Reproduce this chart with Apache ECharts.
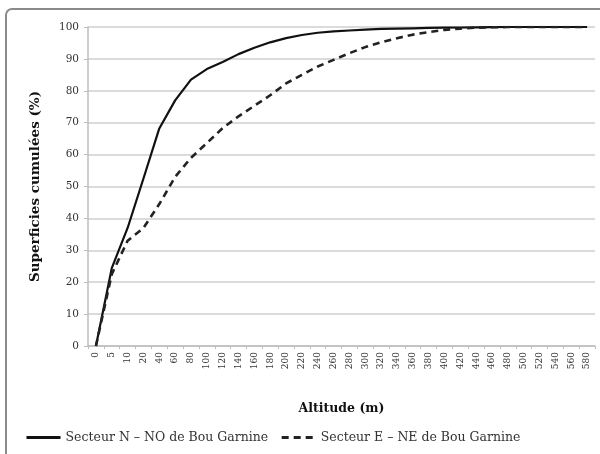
<!DOCTYPE html>
<html>
<head>
<meta charset="utf-8">
<script src="https://cdn.jsdelivr.net/npm/echarts@6/dist/echarts.min.js"></script>
<style>
  html, body { margin: 0; padding: 0; background: #fff; }
  #chart { width: 600px; height: 454px; }
</style>
</head>
<body>
<div id="chart"></div>
<script>
  // altitude classes (m)
  const altitudes = ['0', '5', '10', '20', '40', '60', '80', '100', '120', '140', '160', '180',
    '200', '220', '240', '260', '280', '300', '320', '340', '360', '380', '400', '420',
    '440', '460', '480', '500', '520', '540', '560', '580']

  // cumulative surfaces (%)
  const secteurNNO = [0, 24.4, 37, 52.5, 68.2, 77, 83.5, 86.8, 89, 91.5, 93.5, 95.2,
    96.5, 97.5, 98.2, 98.6, 98.9, 99.2, 99.4, 99.5, 99.6, 99.7, 99.8, 99.85,
    99.9, 99.95, 100, 100, 100, 100, 100, 100]
  const secteurENE = [0, 22.5, 33, 37, 44.5, 53, 59, 63.6, 68.3, 72, 75.3, 78.6,
    82.3, 85, 87.6, 89.7, 91.8, 93.7, 95.2, 96.5, 97.6, 98.4, 99.1, 99.5,
    99.8, 99.9, 100, 100, 100, 100, 100, 100]

  const nameNNO = 'Secteur N – NO de Bou Garnine'
  const nameENE = 'Secteur E – NE de Bou Garnine'

  const serif = '"DejaVu Serif", "Liberation Serif", serif'

  const chart = echarts.init(document.getElementById('chart'))
  chart.setOption({
    animation: false,
    textStyle: {fontFamily: serif},
    graphic: [
      {
        type: 'rect',
        shape: {x: 6, y: 9, width: 610, height: 470, r: 6},
        style: {fill: 'none', stroke: '#8a8a8a', lineWidth: 2}
      }
    ],
    grid: {left: 88, right: 5, top: 27, bottom: 108},
    legend: {
      orient: 'horizontal',
      top: 426,
      left: 20,
      itemGap: 12,
      itemWidth: 34,
      itemHeight: 14,
      itemStyle: {opacity: 0},
      lineStyle: {width: 3},
      textStyle: {fontFamily: serif, fontSize: 12.5, color: '#333'},
      data: [nameNNO, nameENE]
    },
    xAxis: {
      type: 'category',
      data: altitudes,
      boundaryGap: true,
      name: 'Altitude (m)',
      nameLocation: 'middle',
      nameGap: 56,
      nameTextStyle: {fontFamily: serif, fontSize: 12.5, fontWeight: 'bold', color: '#111'},
      axisLine: {lineStyle: {color: '#bdbdbd', width: 1.5}},
      axisTick: {show: true, interval: 0, length: 3, lineStyle: {color: '#bdbdbd'}},
      axisLabel: {interval: 0, rotate: 90, fontSize: 9, color: '#333', margin: 6, fontFamily: serif}
    },
    yAxis: {
      type: 'value',
      min: 0,
      max: 100,
      interval: 10,
      name: 'Superficies cumulées (%)',
      nameLocation: 'middle',
      nameGap: 46,
      nameTextStyle: {fontFamily: serif, fontSize: 13.5, fontWeight: 'bold', color: '#111'},
      axisLine: {show: true, lineStyle: {color: '#bdbdbd', width: 1.5}},
      axisTick: {show: true, length: 4, lineStyle: {color: '#bdbdbd'}},
      axisLabel: {fontSize: 10.5, color: '#333', margin: 9, fontFamily: serif},
      splitLine: {lineStyle: {color: '#cfcfcf', width: 1.5}}
    },
    series: [
      {
        name: nameNNO,
        type: 'line',
        data: secteurNNO,
        symbol: 'none',
        lineStyle: {color: '#111', width: 2.2, type: 'solid'},
        itemStyle: {color: '#111'}
      },
      {
        name: nameENE,
        type: 'line',
        data: secteurENE,
        symbol: 'none',
        lineStyle: {color: '#222', width: 2.6, type: [7, 5]},
        itemStyle: {color: '#222'}
      }
    ]
  })
</script>
</body>
</html>
